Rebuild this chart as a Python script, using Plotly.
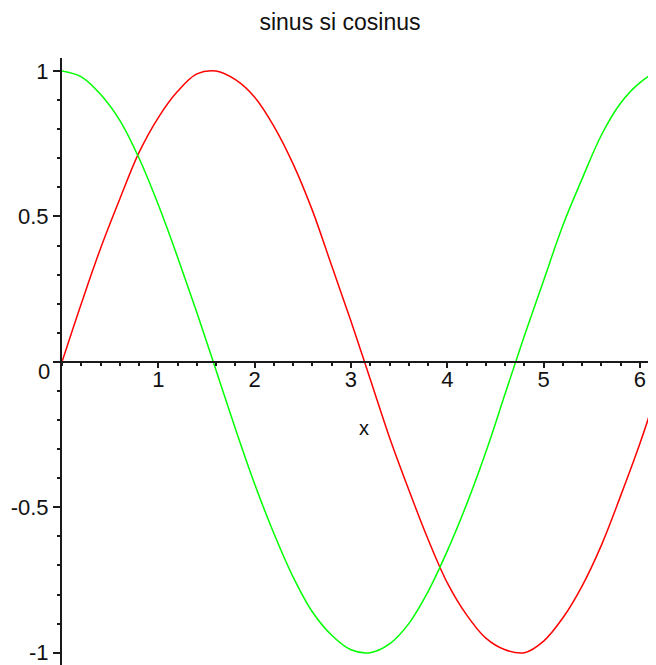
import plotly.graph_objects as go

# valori
X_VALS = [0, 0.2, 0.4, 0.6, 0.8, 1.0, 1.2, 1.4, 1.6, 1.8, 2.0, 2.2, 2.4, 2.6, 2.8,
          3.0, 3.2, 3.4, 3.6, 3.8, 4.0, 4.2, 4.4, 4.6, 4.8, 5.0, 5.2, 5.4, 5.6,
          5.8, 6.0, 6.2, 6.28]
SIN_VALS = [0, 0.20, 0.39, 0.56, 0.72, 0.84, 0.93, 0.99, 1.00, 0.97, 0.91, 0.81,
            0.68, 0.52, 0.33, 0.14, -0.06, -0.26, -0.44, -0.61, -0.76, -0.87,
            -0.95, -0.99, -1.00, -0.96, -0.88, -0.77, -0.63, -0.46, -0.28, -0.08, 0.00]
COS_VALS = [1.00, 0.98, 0.92, 0.83, 0.70, 0.54, 0.36, 0.17, -0.03, -0.23, -0.42,
            -0.59, -0.74, -0.86, -0.94, -0.99, -1.00, -0.97, -0.90, -0.79, -0.65,
            -0.49, -0.31, -0.11, 0.09, 0.28, 0.47, 0.63, 0.78, 0.89, 0.96, 1.00, 1.00]

X_TICKS = [1, 2, 3, 4, 5, 6]
Y_TICKS = [-1, -0.5, 0, 0.5, 1]
Y_LABELS = ["-1", "-0.5", "", "0.5", "1"]

FONT = "Liberation Sans, Arial, sans-serif"
AX = "#1a1a1a"

# body are margine de 8px, figura incepe la (8, 8) in fereastra
W, H = 656, 657
L, T = 54, 50
PX_X = 96.33   # px pe unitate pe x
PX_Y = 290.85  # px pe unitate pe y

X_RANGE = [0, (W - L) / PX_X]
Y_TOP = 1 + 13 / PX_Y
Y_RANGE = [Y_TOP - (H - T) / PX_Y, Y_TOP]

fig = go.Figure()
fig.add_trace(go.Scatter(x=X_VALS, y=SIN_VALS, mode="lines",
                         line=dict(color="#ff0000", width=1.5, shape="spline"),
                         showlegend=False))
fig.add_trace(go.Scatter(x=X_VALS, y=COS_VALS, mode="lines",
                         line=dict(color="#00ff00", width=1.5, shape="spline"),
                         showlegend=False))

# axa x trece prin y=0
pos_x = (0 - Y_RANGE[0]) / (Y_RANGE[1] - Y_RANGE[0])

fig.update_xaxes(
    range=X_RANGE,
    anchor="free",
    position=pos_x,
    automargin=False,
    showline=True, linecolor=AX, linewidth=2,
    showgrid=False, zeroline=False,
    tickmode="array", tickvals=X_TICKS,
    ticks="outside", ticklen=5, tickwidth=1.5, tickcolor=AX,
    tickfont=dict(size=22, color="#111"),
    ticklabelstandoff=-7,
    ticklabeloverflow="allow",
    minor=dict(tick0=0, dtick=0.2, ticks="outside", ticklen=3,
               tickwidth=1.5, tickcolor=AX, showgrid=False),
)
fig.update_yaxes(
    range=Y_RANGE,
    automargin=False,
    showline=True, linecolor=AX, linewidth=2,
    showgrid=False, zeroline=False,
    tickmode="array", tickvals=Y_TICKS, ticktext=Y_LABELS,
    ticks="outside", ticklen=7, tickwidth=1.5, tickcolor=AX,
    tickfont=dict(size=22, color="#111"),
    ticklabeloverflow="allow",
    minor=dict(tick0=0, dtick=0.1, ticks="outside", ticklen=3,
               tickwidth=1.5, tickcolor=AX, showgrid=False),
)

fig.add_annotation(x=0, y=0, xref="x", yref="y", text="0", showarrow=False,
                   xanchor="right", yanchor="middle", xshift=-10, yshift=-10,
                   font=dict(size=22, color="#111"))
fig.add_annotation(x=3.13, y=-0.227, xref="x", yref="y", text="x",
                   showarrow=False, xanchor="center", yanchor="middle",
                   font=dict(size=20, color="#111"))

fig.update_layout(
    title=dict(text="sinus si cosinus", x=332 / W, xref="container",
               y=1 - 14 / H, yref="container", xanchor="center",
               yanchor="middle", font=dict(size=23, color="#111")),
    width=W, height=H,
    margin=dict(l=L, r=0, t=T, b=0, pad=0),
    font=dict(family=FONT),
    paper_bgcolor="white", plot_bgcolor="white",
)

fig.write_html("out.html")
